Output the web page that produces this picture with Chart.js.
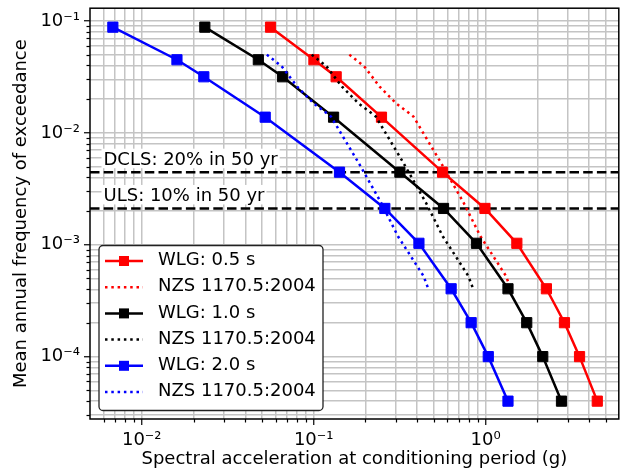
<!DOCTYPE html>
<html>
<head>
<meta charset="utf-8">
<script src="https://cdn.jsdelivr.net/npm/chart.js@4.4.0/dist/chart.umd.min.js"></script>
<style>
  html, body { margin: 0; padding: 0; background: #fff; }
  #wrap { width: 627px; height: 474px; position: relative; }
</style>
</head>
<body>
<div id="wrap"><canvas id="hazardChart"></canvas></div>
<script>
// WLG hazard points: annual rate of exceedance, Sa (g) per period
const wlgRates = [0.088, 0.045, 0.0317, 0.0138, 0.00445, 0.00211, 0.00103, 0.000404, 0.000201, 0.000100, 0.0000400];
const wlgSa05 = [0.0561, 0.1003, 0.1351, 0.2479, 0.5617, 0.991, 1.519, 2.257, 2.874, 3.517, 4.46];
const wlgSa10 = [0.02327, 0.04764, 0.0660, 0.1305, 0.3172, 0.569, 0.8845, 1.349, 1.734, 2.149, 2.762];
const wlgSa20 = [0.00679, 0.01602, 0.02296, 0.05224, 0.1413, 0.2593, 0.4093, 0.630, 0.8237, 1.036, 1.349];

// NZS 1170.5:2004 curves (dotted)
const nzsRates = [0.0500, 0.0393, 0.0257, 0.0183, 0.0140, 0.00540, 0.00237, 0.00119, 0.000791, 0.000524, 0.000400];
const nzsSa05 = [0.1612, 0.1965, 0.2427, 0.3017, 0.3802, 0.5499, 0.7450, 0.9325, 1.107, 1.314, 1.404];
const nzsSa10 = [0.0974, 0.1187, 0.1466, 0.1823, 0.2297, 0.3323, 0.4499, 0.5630, 0.6685, 0.7939, 0.8478];
const nzsSa20 = [0.0534, 0.0651, 0.0804, 0.1000, 0.1260, 0.1823, 0.2469, 0.3090, 0.3667, 0.4355, 0.4652];

// design levels
const dclsRate = 0.00445;
const ulsRate = 0.00211;
const dclsLabel = 'DCLS: 20% in 50 yr';
const ulsLabel = 'ULS: 10% in 50 yr';

const seriesLabels = ['WLG: 0.5 s', 'NZS 1170.5:2004', 'WLG: 1.0 s', 'NZS 1170.5:2004', 'WLG: 2.0 s', 'NZS 1170.5:2004'];
const seriesColors = ['#ff0000', '#ff0000', '#000000', '#000000', '#0000ff', '#0000ff'];

// axes
const xMin = 0.0050, xMax = 5.95;
const yMin = 2.77e-5, yMax = 0.130;
const xMajorTicks = [0.01, 0.1, 1];
const xTickLabels = ['10⁻²', '10⁻¹', '10⁰'];
const yMajorTicks = [0.0001, 0.001, 0.01, 0.1];
const yTickLabels = ['10⁻⁴', '10⁻³', '10⁻²', '10⁻¹'];

const FONT = '"DejaVu Sans", "Liberation Sans", sans-serif';
Chart.defaults.font.family = FONT;
Chart.defaults.font.size = 18;
Chart.defaults.color = '#000';

function pairs(xs, ys) {
    return xs.map((x, i) => ({ x: x, y: ys[i] }));
}

// gridline positions 1..9 x 10^n inside the range
function logTicks(min, max) {
    const out = [];
    for (let e = Math.floor(Math.log10(min)); e <= Math.ceil(Math.log10(max)); e++) {
        for (let m = 1; m <= 9; m++) {
            const v = Number((m * Math.pow(10, e)).toPrecision(6));
            if (v > min && v < max) out.push({ value: v });
        }
    }
    return out;
}

function majorIndex(value, majors) {
    return majors.findIndex(m => Math.abs(Math.log10(value / m)) < 1e-6);
}

const wlgStyle = (color, order) => ({
    borderColor: color,
    backgroundColor: color,
    borderWidth: 2.5,
    pointStyle: 'rect',
    pointRadius: 7.2,
    pointBorderWidth: 1,
    pointHoverRadius: 7.2,
    showLine: true,
    order: order
});

const nzsStyle = (color, order) => ({
    borderColor: color,
    backgroundColor: color,
    borderWidth: 2.5,
    borderDash: [2.5, 3.8],
    pointRadius: 0,
    showLine: true,
    order: order
});

const levelStyle = {
    borderColor: '#000',
    borderWidth: 2.5,
    borderDash: [9.5, 4.2],
    pointRadius: 0,
    showLine: true,
    order: 6
};

const datasets = [
    { label: seriesLabels[0], data: pairs(wlgSa05, wlgRates), ...wlgStyle(seriesColors[0], 5) },
    { label: seriesLabels[1], data: pairs(nzsSa05, nzsRates), ...nzsStyle(seriesColors[1], 4) },
    { label: seriesLabels[2], data: pairs(wlgSa10, wlgRates), ...wlgStyle(seriesColors[2], 3) },
    { label: seriesLabels[3], data: pairs(nzsSa10, nzsRates), ...nzsStyle(seriesColors[3], 2) },
    { label: seriesLabels[4], data: pairs(wlgSa20, wlgRates), ...wlgStyle(seriesColors[4], 1) },
    { label: seriesLabels[5], data: pairs(nzsSa20, nzsRates), ...nzsStyle(seriesColors[5], 0) },
    { label: dclsLabel, data: [{ x: xMin, y: dclsRate }, { x: xMax, y: dclsRate }], ...levelStyle },
    { label: ulsLabel, data: [{ x: xMin, y: ulsRate }, { x: xMax, y: ulsRate }], ...levelStyle }
];

// frame, minor ticks, level captions and the boxed legend
const decorPlugin = {
    id: 'decor',
    afterDraw(chart) {
        const ctx = chart.ctx;
        const area = chart.chartArea;
        const xs = chart.scales.x, ys = chart.scales.y;

        ctx.save();
        // minor tick marks (shorter than the major ones)
        ctx.strokeStyle = '#000';
        ctx.lineWidth = 1.2;
        xs.ticks.forEach(t => {
            if (majorIndex(t.value, xMajorTicks) >= 0) return;
            const px = Math.round(xs.getPixelForValue(t.value)) + 0.5;
            ctx.beginPath();
            ctx.moveTo(px, area.bottom);
            ctx.lineTo(px, area.bottom + 3.5);
            ctx.stroke();
        });
        ys.ticks.forEach(t => {
            if (majorIndex(t.value, yMajorTicks) >= 0) return;
            const py = Math.round(ys.getPixelForValue(t.value)) + 0.5;
            ctx.beginPath();
            ctx.moveTo(area.left - 3.5, py);
            ctx.lineTo(area.left, py);
            ctx.stroke();
        });

        // plot frame
        ctx.lineWidth = 1.5;
        ctx.strokeRect(area.left, area.top, area.right - area.left, area.bottom - area.top);

        // captions above the design levels, on white boxes
        ctx.font = '18px ' + FONT;
        ctx.textBaseline = 'alphabetic';
        ctx.textAlign = 'left';
        [[dclsLabel, dclsRate], [ulsLabel, ulsRate]].forEach(([txt, rate]) => {
            const base = ys.getPixelForValue(rate) - 7;
            const tx = area.left + 13.5;
            const w = ctx.measureText(txt).width;
            ctx.fillStyle = '#fff';
            ctx.fillRect(tx - 2, base - 16.5, w + 4, 19.5);
            ctx.fillStyle = '#000';
            ctx.fillText(txt, tx, base);
        });

        // legend box
        const bw = 224, bh = 165;
        const bx = area.left + 9, by = area.bottom - 8.5 - bh;
        ctx.beginPath();
        if (ctx.roundRect) ctx.roundRect(bx, by, bw, bh, 4);
        else ctx.rect(bx, by, bw, bh);
        ctx.fillStyle = '#fff';
        ctx.fill();
        ctx.strokeStyle = '#222';
        ctx.lineWidth = 1.3;
        ctx.stroke();

        ctx.textBaseline = 'middle';
        for (let i = 0; i < 6; i++) {
            const ds = chart.data.datasets[i];
            const cy = by + 15.5 + i * 26.2;
            ctx.strokeStyle = ds.borderColor;
            ctx.lineWidth = ds.borderWidth;
            ctx.setLineDash(ds.borderDash || []);
            ctx.beginPath();
            ctx.moveTo(bx + 6, cy);
            ctx.lineTo(bx + 44, cy);
            ctx.stroke();
            ctx.setLineDash([]);
            if (ds.pointRadius > 0) {
                ctx.fillStyle = ds.backgroundColor;
                ctx.fillRect(bx + 25 - 5, cy - 5, 10, 10);
            }
            ctx.fillStyle = '#000';
            ctx.fillText(ds.label, bx + 59, cy - 0.5);
        }
        ctx.restore();
    }
};

new Chart(document.getElementById('hazardChart'), {
    type: 'scatter',
    data: { datasets: datasets },
    options: {
        responsive: true,
        maintainAspectRatio: false,
        devicePixelRatio: 1,
        animation: false,
        layout: { padding: { left: 0, right: 1, top: 8, bottom: 0 } },
        plugins: {
            legend: { display: false },
            tooltip: { enabled: false }
        },
        scales: {
            x: {
                type: 'logarithmic',
                min: xMin,
                max: xMax,
                afterBuildTicks: scale => { scale.ticks = logTicks(xMin, xMax); },
                afterFit: scale => {
                    scale.height = 55;
                    scale.paddingLeft = 0;
                    scale.paddingRight = 0;
                },
                border: { display: false },
                grid: {
                    color: '#c4c4c4',
                    lineWidth: 1.5,
                    tickLength: 6,
                    tickWidth: 1.2,
                    tickColor: c => (c.tick && majorIndex(c.tick.value, xMajorTicks) >= 0) ? '#000' : 'rgba(0,0,0,0)'
                },
                ticks: {
                    autoSkip: false,
                    maxRotation: 0,
                    padding: 5,
                    callback: v => {
                        const i = majorIndex(v, xMajorTicks);
                        return i >= 0 ? xTickLabels[i] : '';
                    }
                },
                title: {
                    display: true,
                    text: 'Spectral acceleration at conditioning period (g)',
                    padding: { top: 0, bottom: 4 }
                }
            },
            y: {
                type: 'logarithmic',
                min: yMin,
                max: yMax,
                afterBuildTicks: scale => { scale.ticks = logTicks(yMin, yMax); },
                afterFit: scale => {
                    scale.width = 90;
                    scale.paddingTop = 0;
                    scale.paddingBottom = 0;
                },
                border: { display: false },
                grid: {
                    color: '#c4c4c4',
                    lineWidth: 1.5,
                    tickLength: 6,
                    tickWidth: 1.2,
                    tickColor: c => (c.tick && majorIndex(c.tick.value, yMajorTicks) >= 0) ? '#000' : 'rgba(0,0,0,0)'
                },
                ticks: {
                    autoSkip: false,
                    padding: 4,
                    callback: v => {
                        const i = majorIndex(v, yMajorTicks);
                        return i >= 0 ? yTickLabels[i] : '';
                    }
                },
                title: {
                    display: true,
                    text: 'Mean annual frequency of exceedance',
                    padding: { top: 11, bottom: 0 }
                }
            }
        }
    },
    plugins: [decorPlugin]
});
</script>
</body>
</html>
